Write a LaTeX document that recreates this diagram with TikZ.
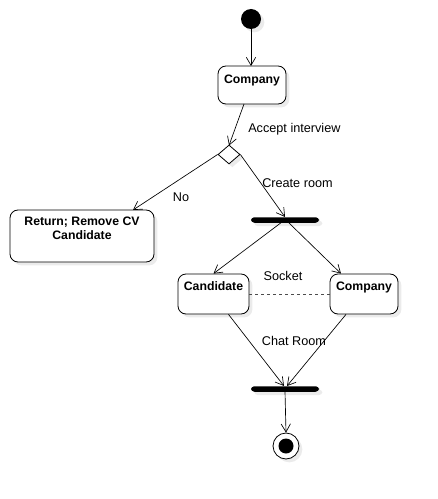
\documentclass[tikz,border=0pt]{standalone}
\usepackage{fontspec}
\setmainfont{Liberation Sans}
\usetikzlibrary{arrows.meta,shadows,shapes.geometric}
\begin{document}
\begin{tikzpicture}[x=0.75pt,y=-0.75pt,
  shad/.style={drop shadow={shadow xshift=2.5pt,shadow yshift=-2.5pt,fill=black,opacity=0.08}},
  actbox/.style={draw,fill=white,line width=0.6pt,rounded corners=6pt,shad,inner sep=0pt},
  boxtext/.style={font=\fontsize{9.2}{10.8}\selectfont\bfseries,align=center,anchor=north,inner sep=0pt},
  lbl/.style={font=\fontsize{9.5}{11}\selectfont,inner sep=0pt},
  arr/.style={draw,line width=0.5pt,-{Straight Barb[length=6pt,width=7pt,line width=0.5pt]}},
  bar/.style={fill=black,rounded corners=2.5pt,shad,inner sep=0pt}
]
\useasboundingbox (0,0) rectangle (438,499);
% start
\node[circle,fill=black,minimum size=20*0.75pt,inner sep=0pt,shad] (start) at (251,19) {};
% company
\node[actbox,minimum width=68*0.75pt,minimum height=38*0.75pt] (comp) at (252,85) {};
\node[boxtext] (compt) at ([yshift=-6.5pt]comp.north) {Company};
% diamond
\node[diamond,draw,line width=0.6pt,minimum width=22*0.75pt,minimum height=19*0.75pt,inner sep=0pt,fill=white,shad] (dec) at (229,154.5) {};
% return box
\node[actbox,minimum width=144*0.75pt,minimum height=52*0.75pt] (ret) at (82,236) {};
\node[boxtext] (rett) at ([yshift=-5pt]ret.north) {Return; Remove CV\\Candidate};
% fork bar
\node[bar,minimum width=68*0.75pt,minimum height=5.5*0.75pt] (fork) at (285,220) {};
% candidate
\node[actbox,minimum width=71*0.75pt,minimum height=40*0.75pt] (cand) at (213.5,294) {};
\node[boxtext] (candt) at ([yshift=-6pt]cand.north) {Candidate};
% company 2
\node[actbox,minimum width=68*0.75pt,minimum height=40*0.75pt] (comp2) at (364,294) {};
\node[boxtext] (comp2t) at ([yshift=-6pt]comp2.north) {Company};
% join bar
\node[bar,minimum width=68*0.75pt,minimum height=5.5*0.75pt] (join) at (285,389) {};
% end
\node[circle,draw,line width=0.6pt,minimum size=26*0.75pt,inner sep=0pt,fill=white,shad] (endo) at (286,446) {};
\node[circle,fill=black,minimum size=15*0.75pt,inner sep=0pt] (endi) at (286,446) {};
% connectors
\coordinate (c1) at (251,66);
\draw[arr] (start) -- (c1);
\coordinate (c2) at (244,104);
\coordinate (c3) at (229,145.5);
\draw[arr] (c2) -- (c3);
\coordinate (c5) at (133,210);
\draw[arr] (dec.west) -- (c5);
\coordinate (c6) at (285,217);
\draw[arr] (dec.east) -- (c6);
\coordinate (f1) at (282,222);
\coordinate (f2) at (288,222);
\draw[arr] (f1) -- (cand.north);
\draw[arr] (f2) -- ([xshift=-23*0.75pt]comp2.north);
\draw[line width=0.6pt,black!70,dash pattern=on 2.3pt off 2.2pt] (cand.east) -- (comp2.west);
\coordinate (j1) at (284,386);
\coordinate (j2) at (287,386);
\draw[arr] ([xshift=15*0.75pt]cand.south) -- (j1);
\draw[arr] ([xshift=-18*0.75pt]comp2.south) -- (j2);
\coordinate (j3) at (285,391.5);
\draw[arr] (j3) -- (endo.north);
% labels
\node[lbl,anchor=west] (l1) at (248,129) {Accept interview};
\node[lbl] (l2) at (181,197) {No};
\node[lbl,anchor=west] (l3) at (262,183) {Create room};
\node[lbl] (l4) at (283,276) {Socket};
\node[lbl] (l5) at (294,341) {Chat Room};
\end{tikzpicture}
\end{document}
